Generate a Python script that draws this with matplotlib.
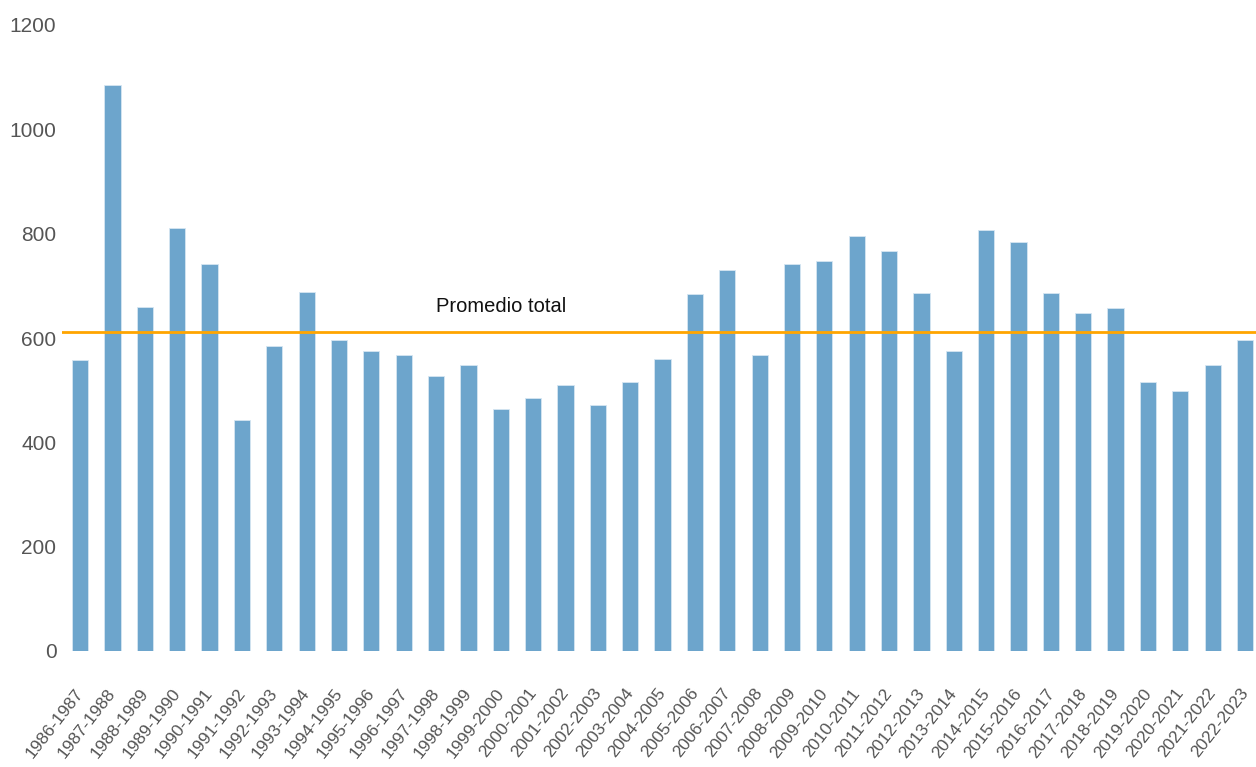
import matplotlib
matplotlib.use("Agg")
import matplotlib.pyplot as plt
import matplotlib.transforms as mtransforms
import numpy as np

seasons = [
    "1986-1987", "1987-1988", "1988-1989", "1989-1990", "1990-1991", "1991-1992",
    "1992-1993", "1993-1994", "1994-1995", "1995-1996", "1996-1997", "1997-1998",
    "1998-1999", "1999-2000", "2000-2001", "2001-2002", "2002-2003", "2003-2004",
    "2004-2005", "2005-2006", "2006-2007", "2007-2008", "2008-2009", "2009-2010",
    "2010-2011", "2011-2012", "2012-2013", "2013-2014", "2014-2015", "2015-2016",
    "2016-2017", "2017-2018", "2018-2019", "2019-2020", "2020-2021", "2021-2022",
    "2022-2023",
]
values = [
    557, 1085, 659, 810, 741, 443,
    585, 688, 596, 576, 567, 527,
    549, 463, 485, 510, 472, 516,
    559, 684, 730, 567, 741, 747,
    795, 766, 686, 576, 807, 784,
    686, 647, 658, 516, 498, 549,
    597,
]
average_total = 612
average_label = "Promedio total"
y_ticks = [0, 200, 400, 600, 800, 1000, 1200]

plt.rcParams["font.family"] = ["Liberation Sans", "DejaVu Sans"]

fig = plt.figure(figsize=(12.56, 7.67), dpi=100)
ax = fig.add_axes([62 / 1256, 1 - 651 / 767, 1 - 62 / 1256, (651 - 25) / 767])

x = np.arange(len(seasons))
ax.bar(x, values, width=0.5, color="#6DA5CC", edgecolor="#D6E6F2", linewidth=0.6, zorder=2)
ax.axhline(average_total, color="#FFA500", linewidth=2.0, zorder=3)
ax.text(11, average_total + 31, average_label, fontsize=14.5, color="#111111",
        ha="left", va="bottom")

ax.set_xlim(-0.56, 36.34)
ax.set_ylim(0, 1200)
ax.set_yticks(y_ticks)
ax.set_yticklabels([str(v) for v in y_ticks], fontsize=15, color="#555555")
ax.set_xticks(x)
ax.set_xticklabels(seasons, rotation=52, ha="right", va="top",
                   rotation_mode="anchor", fontsize=12.5, color="#555555")
ax.tick_params(axis="both", length=0)
ax.tick_params(axis="y", pad=4)
ax.tick_params(axis="x", pad=25)

# nudge the rotated season labels slightly to the left
shift = mtransforms.ScaledTranslation(-4 / 72, 0, fig.dpi_scale_trans)
for lbl in ax.get_xticklabels():
    lbl.set_transform(lbl.get_transform() + shift)

for spine in ax.spines.values():
    spine.set_visible(False)

fig.savefig("out.png", dpi=100, facecolor="white")
